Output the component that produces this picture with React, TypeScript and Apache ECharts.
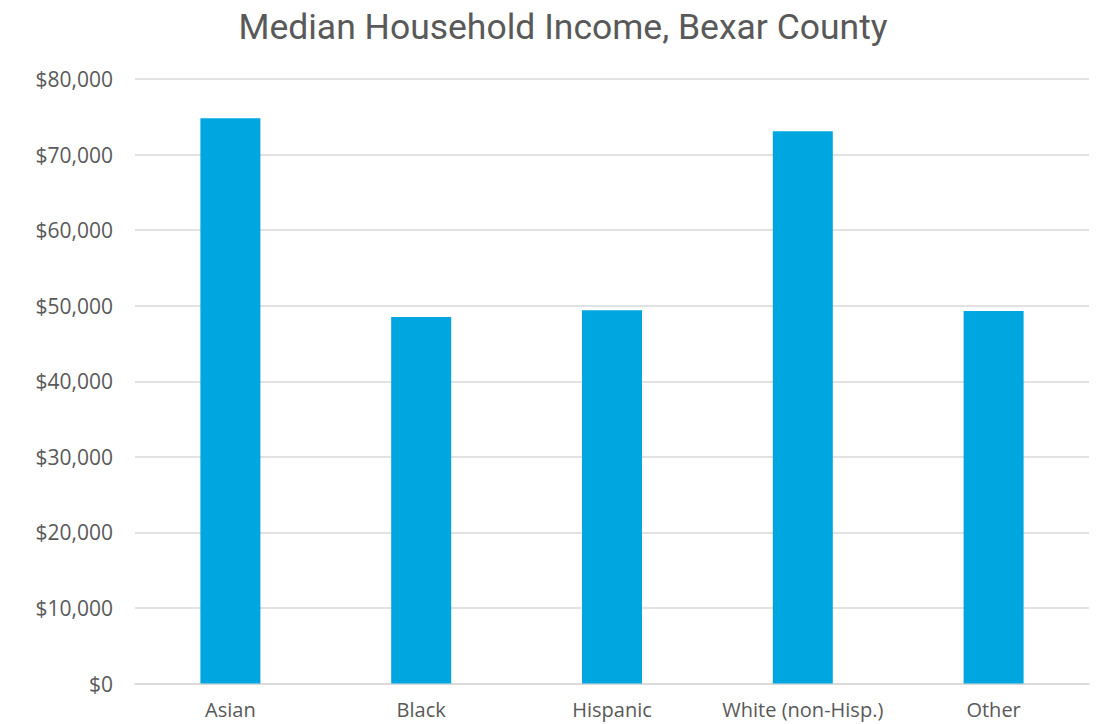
import React, { useEffect, useRef } from "react";
import * as echarts from "echarts";

const categories = ["Asian", "Black", "Hispanic", "White (non-Hisp.)", "Other"];
const incomeValues = [74800, 48500, 49400, 73100, 49300];
const titleText = "Median Household Income, Bexar County";

export default function App() {
  const ref = useRef<HTMLDivElement>(null);
  useEffect(() => {
    if (!ref.current) return;
    const chart = echarts.init(ref.current, null, { renderer: "svg" });
    chart.setOption({
      animation: false,
      backgroundColor: "#ffffff",
      title: {
        text: titleText,
        left: 558,
        textAlign: "center",
        top: 4,
        textStyle: {
          fontFamily: "Roboto",
          fontSize: 35.5,
          fontWeight: "normal",
          color: "#595959",
        },
      },
      grid: { left: 135, right: 7, top: 79, bottom: 40.5, containLabel: false },
      xAxis: {
        type: "category",
        data: categories,
        axisLine: { show: true, lineStyle: { color: "#d9d9d9", width: 1.5 } },
        axisTick: { show: false },
        axisLabel: {
          interval: 0,
          color: "#595959",
          fontFamily: "Open Sans",
          fontSize: 20,
          lineHeight: 22,
          margin: 15,
        },
      },
      yAxis: {
        type: "value",
        min: 0,
        max: 80000,
        interval: 10000,
        axisLine: { show: false },
        axisTick: { show: false },
        splitLine: { lineStyle: { color: "#d9d9d9", width: 1.5 } },
        axisLabel: {
          color: "#595959",
          fontFamily: "Open Sans",
          fontSize: 21,
          margin: 22,
          formatter: (v: number) => "$" + v.toLocaleString("en-US"),
        },
      },
      series: [
        {
          type: "bar",
          data: incomeValues,
          barWidth: 60,
          itemStyle: { color: "#00A6E0" },
        },
      ],
    });
    return () => chart.dispose();
  }, []);
  return (
    <div
      ref={ref}
      style={{ position: "fixed", left: 0, top: 0, width: 1096, height: 724 }}
    />
  );
}
